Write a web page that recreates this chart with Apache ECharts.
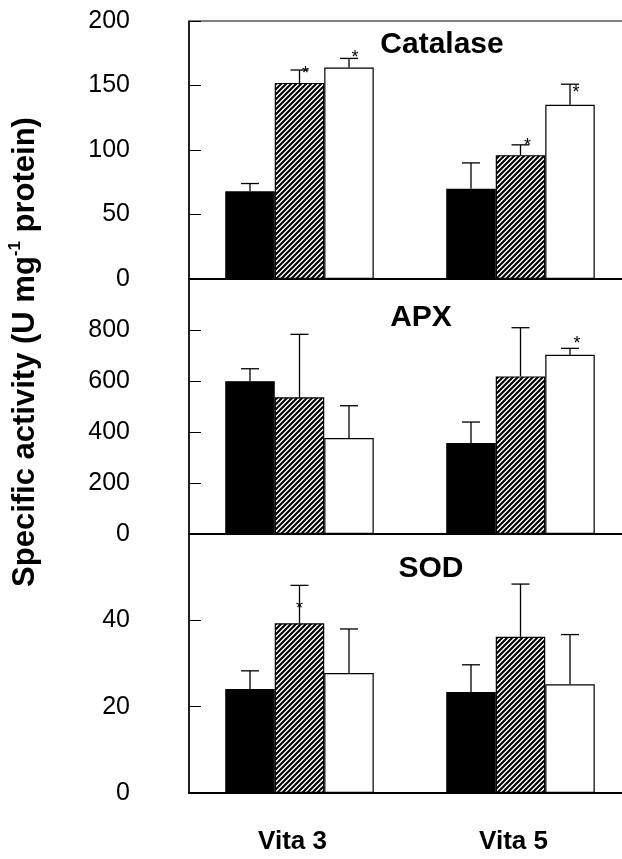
<!DOCTYPE html>
<html>
<head>
<meta charset="utf-8">
<script src="https://cdn.jsdelivr.net/npm/echarts@6/dist/echarts.min.js"></script>
<style>
  html, body { margin: 0; padding: 0; background: #fff; }
  #chart { width: 622px; height: 859px; }
</style>
</head>
<body>
<div id="chart"></div>
<script>
// categories on the x axis
const categories = ['Vita 3', 'Vita 5'];
// three treatments: solid black, hatched, open (white)
const treatments = ['black', 'hatched', 'white'];

// means, one array per treatment (Vita 3, Vita 5)
const catalaseMean = [[68, 70], [152, 96], [164, 135]];
const catalaseSd = [[6, 20], [10, 8], [7, 16]];
const catalaseStar = [[0, 0], [1, 1], [1, 1]];

const apxMean = [[599, 357], [536, 618], [376, 703]];
const apxSd = [[49, 82], [247, 191], [127, 25]];
const apxStar = [[0, 0], [0, 0], [0, 1]];

const sodMean = [[24.1, 23.4], [39.3, 36.2], [27.8, 25.2]];
const sodSd = [[4.2, 6.3], [8.8, 12.2], [10.2, 11.5]];
const sodStar = [[0, 0], [1, 0], [0, 0]];

// y axis ranges / tick steps
const yMax = [200, 1000, 60];
const yStep = [50, 200, 20];
const panelTitles = ['Catalase', 'APX', 'SOD'];

// ---- layout / style ----
const FONT = "'Liberation Sans', Arial, sans-serif";
const BAR_W = 49.5;
const CAP_W = 18;
// where the asterisk sits next to the error cap (dx, dy in px), by panel-treatment-category
const starNudge = {
  '0-1-0': [6, 0], '0-2-0': [6, -4], '0-1-1': [7, -3], '0-2-1': [6, 5],
  '1-2-1': [7, -8],
  '2-1-0': [0, 20]
};

// right edge runs past the canvas, like the cropped original
const grids = [
  { left: 189, top: 21, width: 442, height: 258 },
  { left: 189, top: 279, width: 442, height: 255 },
  { left: 189, top: 534, width: 442, height: 259 }
];

const panels = [
  { mean: catalaseMean, sd: catalaseSd, star: catalaseStar },
  { mean: apxMean, sd: apxSd, star: apxStar },
  { mean: sodMean, sd: sodSd, star: sodStar }
];

function hatchPattern() {
  const s = 5;
  const c = document.createElement('canvas');
  c.width = s; c.height = s;
  const ctx = c.getContext('2d');
  ctx.fillStyle = '#fff';
  ctx.fillRect(0, 0, s, s);
  ctx.strokeStyle = '#000';
  ctx.lineWidth = 2.1;
  ctx.beginPath();
  ctx.moveTo(-1, s + 1); ctx.lineTo(s + 1, -1);
  ctx.moveTo(-1, 1); ctx.lineTo(1, -1);
  ctx.moveTo(s - 1, s + 1); ctx.lineTo(s + 1, s - 1);
  ctx.stroke();
  return c;
}
const hatch = hatchPattern();
const fills = ['#000', { image: hatch, repeat: 'repeat' }, '#fff'];

const xAxes = grids.map((g, i) => ({
  type: 'category',
  gridIndex: i,
  data: categories,
  axisLine: { lineStyle: { color: '#000', width: 2 } },
  axisTick: { inside: true, length: 12, lineStyle: { color: '#000', width: 1 } },
  axisLabel: i === 2 ? {
    color: '#000', fontFamily: FONT, fontWeight: 'bold', fontSize: 26,
    margin: 36, padding: [0, 14, 0, 0]
  } : { show: false }
}));

const yAxes = grids.map((g, i) => ({
  type: 'value',
  gridIndex: i,
  min: 0,
  max: yMax[i],
  interval: yStep[i],
  splitLine: { show: false },
  axisLine: { show: true, lineStyle: { color: '#000', width: 1.5 } },
  axisTick: { show: true, inside: true, length: 12, lineStyle: { color: '#000', width: 1 } },
  axisLabel: {
    color: '#000', fontFamily: FONT, fontSize: 25, margin: 59,
    formatter: v => (i > 0 && v === yMax[i]) ? '' : String(v)
  }
}));

const series = [];
panels.forEach((p, pi) => {
  treatments.forEach((t, ti) => {
    series.push({
      type: 'bar',
      name: t,
      xAxisIndex: pi,
      yAxisIndex: pi,
      data: p.mean[ti],
      barWidth: BAR_W,
      barGap: '0%',
      itemStyle: { color: fills[ti], borderColor: '#000', borderWidth: 1.2 },
      emphasis: { disabled: true },
      silent: true
    });
  });
  const errData = [];
  treatments.forEach((t, ti) => {
    categories.forEach((c, ci) => {
      errData.push([ci, ti, p.mean[ti][ci], p.sd[ti][ci], p.star[ti][ci]]);
    });
  });
  series.push({
    type: 'custom',
    xAxisIndex: pi,
    yAxisIndex: pi,
    data: errData,
    encode: { x: 0, y: 2 },
    clip: false,
    z: 5,
    silent: true,
    renderItem: (params, api) => {
      const ci = api.value(0), ti = api.value(1);
      const m = api.value(2), sd = api.value(3), st = api.value(4);
      const base = api.coord([ci, m]);
      const top = api.coord([ci, m + sd]);
      const x = base[0] + (ti - 1) * BAR_W;
      const line = { stroke: '#000', lineWidth: 1.3 };
      const kids = [
        { type: 'line', shape: { x1: x, y1: base[1], x2: x, y2: top[1] }, style: line },
        { type: 'line', shape: { x1: x - CAP_W / 2, y1: top[1], x2: x + CAP_W / 2, y2: top[1] }, style: line }
      ];
      if (st) {
        const n = starNudge[pi + '-' + ti + '-' + ci] || [6, 0];
        kids.push({
          type: 'text',
          style: {
            text: '*', x: x + n[0], y: top[1] + n[1] + 4,
            font: '18px ' + FONT, fill: '#000',
            textAlign: 'center', textVerticalAlign: 'middle'
          }
        });
      }
      return { type: 'group', children: kids };
    }
  });
});

const titlePos = [[442, 45], [421, 318], [431, 569]];
const graphics = panelTitles.map((t, i) => ({
  type: 'text',
  x: titlePos[i][0],
  y: titlePos[i][1],
  style: {
    text: t, font: 'bold 30px ' + FONT, fill: '#000',
    textAlign: 'center', textVerticalAlign: 'middle'
  }
}));
graphics.push({
  type: 'text',
  x: 25,
  y: 352,
  rotation: Math.PI / 2,
  style: {
    text: '{n|Specific activity (U mg}{s|-1}{n| protein)}',
    rich: {
      n: { font: 'bold 31px ' + FONT, fill: '#000', lineHeight: 36 },
      s: { font: 'bold 17px ' + FONT, fill: '#000', verticalAlign: 'top', lineHeight: 36 }
    },
    textAlign: 'center',
    textVerticalAlign: 'middle'
  }
});

const myChart = echarts.init(document.getElementById('chart'));
myChart.setOption({
  animation: false,
  backgroundColor: '#fff',
  grid: grids.map(g => Object.assign({
    show: true, borderColor: '#000', borderWidth: 1, backgroundColor: 'transparent',
    outerBoundsMode: 'none'
  }, g)),
  xAxis: xAxes,
  yAxis: yAxes,
  series: series,
  graphic: graphics
});
</script>
</body>
</html>
